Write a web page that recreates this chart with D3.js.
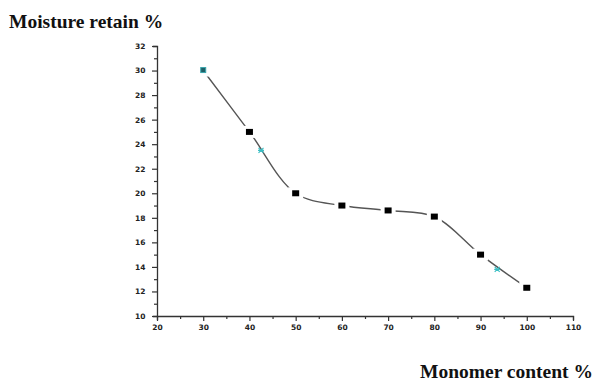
<!DOCTYPE html>
<html>
<head>
<meta charset="utf-8">
<script src="https://cdn.jsdelivr.net/npm/d3@7"></script>
<style>
  html, body { margin: 0; padding: 0; background: #fff; }
  svg { display: block; }
</style>
</head>
<body>
<svg id="chart" width="595" height="383"></svg>
<script>
// Monomer content (%) and moisture retained (%)
const monomer = [30, 40, 50, 60, 70, 80, 90, 100];
const moisture = [30, 25, 20, 19, 18.6, 18.1, 15, 12.3];
// Small cyan reference marks along the curve
const markX = [42.5, 93.6];
const markY = [23.5, 13.8];
const xTicks = [20, 30, 40, 50, 60, 70, 80, 90, 100, 110];
const yTicks = [10, 12, 14, 16, 18, 20, 22, 24, 26, 28, 30, 32];

const svg = d3.select("#chart");
const x = d3.scaleLinear().domain([20, 110]).range([157, 573]);
const y = d3.scaleLinear().domain([10, 32]).range([316, 46]);

// Axes
const xAxis = d3.axisBottom(x).tickValues(d3.range(20, 111, 5)).tickSize(4)
  .tickFormat(d => xTicks.includes(d) ? d : "");
const yAxis = d3.axisLeft(y).tickValues(d3.range(10, 32.1, 1)).tickSize(4)
  .tickFormat(d => yTicks.includes(d) ? d : "");

const gx = svg.append("g").attr("transform", `translate(0,${y(10)})`).call(xAxis);
const gy = svg.append("g").attr("transform", `translate(${x(20)},0)`).call(yAxis);

[gx, gy].forEach(g => {
  g.select(".domain").attr("stroke", "#333").attr("stroke-width", 1.3);
  g.selectAll(".tick line").attr("stroke", "#333").attr("stroke-width", 1.2);
  g.selectAll("text")
    .attr("font-family", "DejaVu Sans, sans-serif")
    .attr("font-weight", "bold")
    .attr("font-size", 7.5)
    .attr("fill", "#222");
});
gx.selectAll(".tick line").attr("y2", d => xTicks.includes(d) ? 5 : 3);
gy.selectAll(".tick line").attr("x2", d => yTicks.includes(d) ? -5 : -3);
gx.selectAll("text").attr("dy", "0.9em");
gy.selectAll("text").attr("dx", "-0.6em");

// Smooth fitted curve
const line = d3.line()
  .x((d, i) => x(monomer[i]))
  .y(d => y(d))
  .curve(d3.curveCatmullRom.alpha(0.5));

svg.append("path")
  .datum(moisture)
  .attr("d", line)
  .attr("fill", "none")
  .attr("stroke", "#555")
  .attr("stroke-width", 1.4);

// White gaps around each data point, then the square markers
svg.selectAll("rect.gap")
  .data(moisture)
  .join("rect")
  .attr("class", "gap")
  .attr("x", (d, i) => x(monomer[i]) - 7.5)
  .attr("y", d => y(d) - 6)
  .attr("width", 15)
  .attr("height", 12)
  .attr("fill", "#fff");

svg.selectAll("rect.pt")
  .data(moisture)
  .join("rect")
  .attr("class", "pt")
  .attr("x", (d, i) => x(monomer[i]) - (i === 0 ? 2.5 : 3.5))
  .attr("y", d => y(d) - 3)
  .attr("width", (d, i) => i === 0 ? 5 : 7)
  .attr("height", (d, i) => i === 0 ? 5 : 6)
  .attr("fill", (d, i) => i === 0 ? "#1f5f66" : "#000")
  .attr("stroke", (d, i) => i === 0 ? "#3aa6ad" : "none")
  .attr("stroke-width", 1);

svg.selectAll("path.mark")
  .data(markY)
  .join("path")
  .attr("class", "mark")
  .attr("d", (d, i) => {
    const cx = x(markX[i]), cy = y(d);
    return `M${cx - 2.5},${cy - 2.5}L${cx + 2.5},${cy + 2.5}M${cx - 2.5},${cy + 2.5}L${cx + 2.5},${cy - 2.5}M${cx - 3},${cy}L${cx + 3},${cy}`;
  })
  .attr("stroke", "#3bbfc4")
  .attr("stroke-width", 1.2)
  .attr("fill", "none");

// Axis titles
svg.append("text")
  .attr("x", 9).attr("y", 28)
  .attr("font-family", "Liberation Serif, Times New Roman, serif")
  .attr("font-weight", "bold")
  .attr("font-size", 19.5)
  .attr("fill", "#111")
  .text("Moisture retain %");

svg.append("text")
  .attr("x", 593).attr("y", 378)
  .attr("text-anchor", "end")
  .attr("font-family", "Liberation Serif, Times New Roman, serif")
  .attr("font-weight", "bold")
  .attr("font-size", 19.5)
  .attr("fill", "#111")
  .text("Monomer content %");
</script>
</body>
</html>
